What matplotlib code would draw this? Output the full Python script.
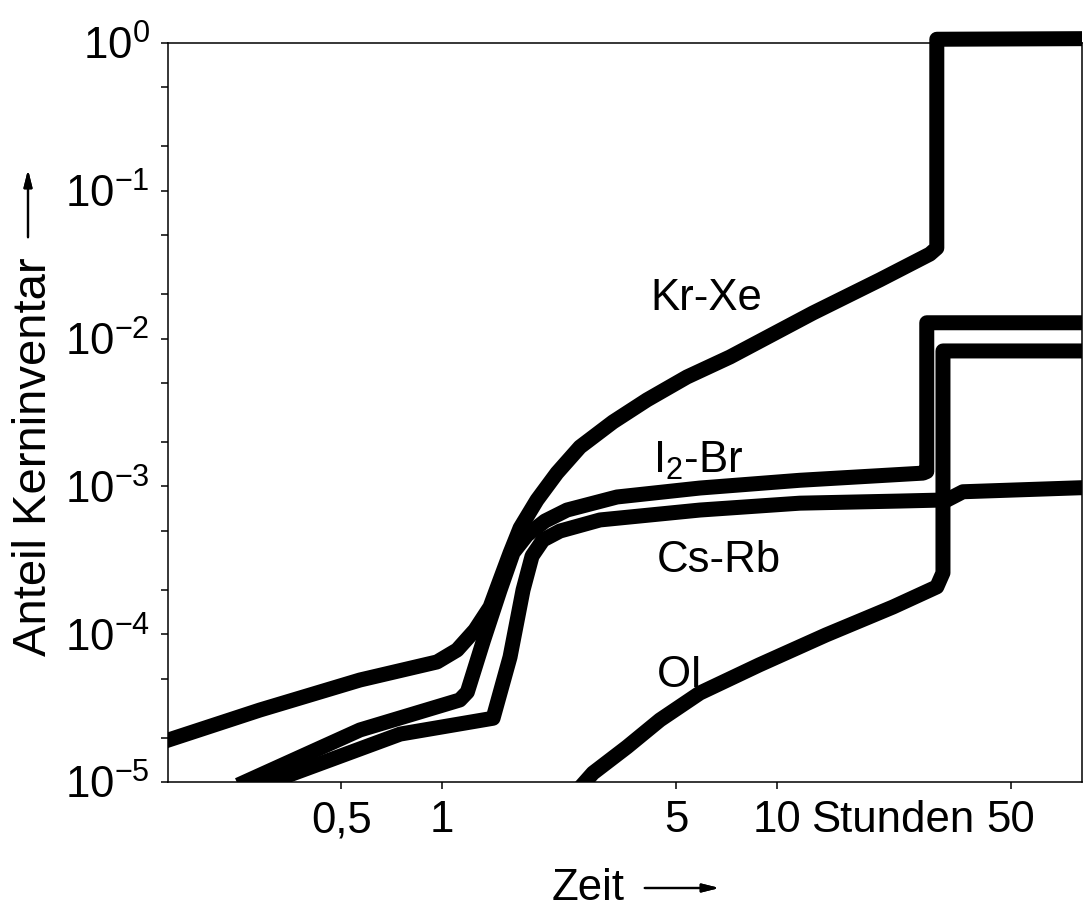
import numpy as np
import matplotlib
matplotlib.use("Agg")
import matplotlib.pyplot as plt
from matplotlib.patches import Rectangle
from matplotlib.ticker import FixedLocator, NullLocator, NullFormatter

plt.rcParams['font.family'] = ['Liberation Sans', 'DejaVu Sans']
plt.rcParams['mathtext.fontset'] = 'custom'
plt.rcParams['mathtext.rm'] = 'Liberation Sans'
plt.rcParams['mathtext.it'] = 'Liberation Sans:italic'
plt.rcParams['mathtext.bf'] = 'Liberation Sans:bold'

# Zeit in Stunden / Anteil Kerninventar
kr_xe_t = [0.152, 0.286, 0.569, 0.966, 1.109, 1.254, 1.391, 1.490, 1.596, 1.710, 1.921, 2.204, 2.582,
           3.239, 4.093, 5.386, 7.239, 12.8, 20.3, 28.6, 30.0, 30.0, 81.4]
kr_xe_v = [1.92e-5, 3.07e-5, 4.9e-5, 6.49e-5, 7.82e-5, 1.067e-4, 1.528e-4, 2.33e-4, 3.54e-4, 5.23e-4,
           8.09e-4, 1.233e-3, 1.849e-3, 2.73e-3, 3.85e-3, 5.50e-3, 7.51e-3, 1.49e-2, 2.5e-2, 3.73e-2,
           4.1e-2, 1.06, 1.07]

i2_br_t = [0.258, 0.569, 1.13, 1.19, 1.33, 1.49, 1.63, 1.794, 2.03, 2.361, 3.33, 5.89, 11.7, 27.3, 28.0, 28.0, 81.4]
i2_br_v = [1e-5, 2.25e-5, 3.59e-5, 4.06e-5, 9.1e-5, 1.99e-4, 3.56e-4, 4.69e-4, 5.83e-4, 6.92e-4, 8.48e-4,
           9.75e-4, 1.10e-3, 1.23e-3, 1.26e-3, 1.28e-2, 1.28e-2]

cs_rb_t = [0.307, 0.75, 1.42, 1.596, 1.745, 1.857, 2.002, 2.25, 2.962, 5.89, 11.7, 23.3, 32.2, 35.9, 81.4]
cs_rb_v = [1e-5, 2.11e-5, 2.7e-5, 7.01e-5, 1.99e-4, 3.38e-4, 4.34e-4, 4.99e-4, 5.93e-4, 6.92e-4, 7.7e-4,
           7.96e-4, 8.1e-4, 9.2e-4, 9.8e-4]

oi_t = [2.673, 2.823, 3.566, 4.474, 5.886, 8.84, 14.0, 22.2, 30.0, 31.3, 31.3, 81.4]
oi_v = [1e-5, 1.15e-5, 1.725e-5, 2.63e-5, 4.0e-5, 6.19e-5, 9.88e-5, 1.528e-4, 2.09e-4, 2.6e-4, 8.25e-3, 8.25e-3]

x_ticks = [0.5, 1, 5, 10, 50]
x_tick_labels = ['0,5', '1', '5', '10', '50']
y_ticks = [1e-5, 1e-4, 1e-3, 1e-2, 1e-1, 1e0]
y_tick_labels = [r'$\mathregular{10^{-5}}$', r'$\mathregular{10^{-4}}$', r'$\mathregular{10^{-3}}$',
                 r'$\mathregular{10^{-2}}$', r'$\mathregular{10^{-1}}$', r'$\mathregular{10^{0}}$']

fig = plt.figure(figsize=(10.85, 9.08), dpi=100)
ax = fig.add_axes([168 / 1085, 1 - 782 / 908, (1082 - 168) / 1085, (782 - 43) / 908])

# lines are cut flat at the left/bottom/right frame but may rise a little above 10^0
clip = Rectangle((0, 0), 1.0, 1.1, transform=ax.transAxes, facecolor='none', edgecolor='none')
lw = 10.8
for t, v in [(kr_xe_t, kr_xe_v), (i2_br_t, i2_br_v), (cs_rb_t, cs_rb_v), (oi_t, oi_v)]:
    line, = ax.plot(t, v, color='black', lw=lw, solid_joinstyle='round', solid_capstyle='projecting')
    line.set_clip_path(clip)

ax.set_xscale('log')
ax.set_yscale('log')
ax.set_xlim(0.152, 81.4)
ax.set_ylim(1e-5, 1e0)

ax.xaxis.set_major_locator(FixedLocator(x_ticks))
ax.set_xticklabels(x_tick_labels)
ax.xaxis.set_minor_locator(NullLocator())
ax.yaxis.set_major_locator(FixedLocator(y_ticks))
ax.set_yticklabels(y_tick_labels)
ax.yaxis.set_minor_locator(FixedLocator([m * 10.0 ** e for e in range(-5, 0) for m in (2, 5)]))
ax.yaxis.set_minor_formatter(NullFormatter())

fs = 31.5
ax.tick_params(which='both', direction='out', length=5, width=1.1, labelsize=fs, pad=8, color='black')
for s in ax.spines.values():
    s.set_linewidth(1.1)

# Stunden sits between the 10 and 50 labels
ax.annotate('Stunden', xy=(22.2, 0), xycoords=('data', 'axes fraction'), xytext=(0, -13),
            textcoords='offset points', ha='center', va='top', fontsize=fs)

ax.text(4.18, 1.56e-2, 'Kr-Xe', fontsize=fs, ha='left', va='baseline')
ax.text(4.27, 1.23e-3, r'I$_\mathregular{2}$-Br', fontsize=fs, ha='left', va='baseline')
ax.text(4.38, 2.64e-4, 'Cs-Rb', fontsize=fs, ha='left', va='baseline')
ax.text(4.38, 4.4e-5, 'OI', fontsize=fs, ha='left', va='baseline')

# axis titles with arrows
fig.text(34 / 1085, 1 - 457 / 908, 'Anteil Kerninventar', rotation=90, ha='center', va='center', fontsize=34)
fig.text(588 / 1085, 1 - 888 / 908, 'Zeit', ha='center', va='center', fontsize=fs)
arrow = dict(arrowstyle='-|>,head_length=1.0,head_width=0.25', color='black', lw=1.6)
fig.add_artist(plt.annotate('', xy=(722 / 1085, 1 - 888 / 908), xytext=(642 / 1085, 1 - 888 / 908),
                            xycoords='figure fraction', arrowprops=arrow))
fig.add_artist(plt.annotate('', xy=(28 / 1085, 1 - 167 / 908), xytext=(28 / 1085, 1 - 240 / 908),
                            xycoords='figure fraction', arrowprops=arrow))

fig.savefig('out.png', dpi=100)
